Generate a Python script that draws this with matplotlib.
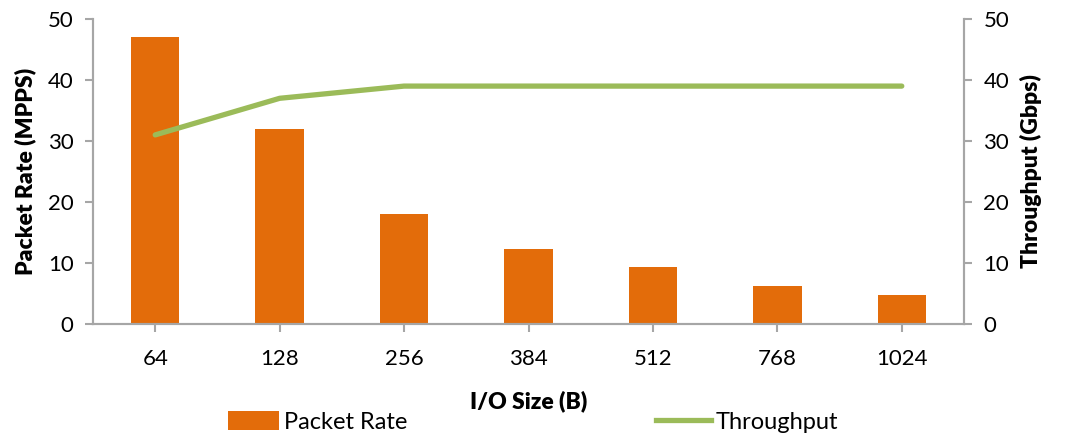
import matplotlib
matplotlib.use("Agg")
import matplotlib.pyplot as plt
import numpy as np
from matplotlib.patches import Patch
from matplotlib.lines import Line2D

categories = ["64", "128", "256", "384", "512", "768", "1024"]
packet_rate = [47, 32, 18.1, 12.3, 9.3, 6.2, 4.75]
throughput = [31, 37, 39, 39, 39, 39, 39]

plt.rcParams['font.family'] = ['Lato', 'DejaVu Sans']

ORANGE = "#E36C0A"
GREEN = "#9BBB59"
GRAY = "#A6A6A6"

W, H = 1066, 438
fig = plt.figure(figsize=(W / 100, H / 100), dpi=100)
ax = fig.add_axes([93 / W, 1 - 324 / H, (964 - 93) / W, (324 - 19) / H])
x = np.arange(len(categories))
ax.bar(x, packet_rate, width=0.39, color=ORANGE, zorder=2)
ax.set_xlim(-0.5, len(categories) - 0.5)
ax.set_ylim(0, 50)
ax.set_yticks([0, 10, 20, 30, 40, 50])
ax.set_xticks(x)
ax.set_xticklabels(categories)

ax2 = ax.twinx()
ax2.plot(x, throughput, color=GREEN, lw=3.8, solid_capstyle='round', zorder=3)
ax2.set_ylim(0, 50)
ax2.set_yticks([0, 10, 20, 30, 40, 50])

for a in (ax, ax2):
    a.spines['top'].set_visible(False)
    for s in ('left', 'right', 'bottom'):
        a.spines[s].set_color(GRAY)
        a.spines[s].set_linewidth(1.5)
    a.tick_params(axis='both', colors=GRAY, labelcolor='black', labelsize=16,
                  length=6, width=1.5, direction='out')
ax.tick_params(axis='x', pad=12)
ax.tick_params(axis='y', pad=8)
ax2.tick_params(axis='y', pad=8)

ax.set_xlabel("I/O Size (B)", fontsize=16.5, fontweight='heavy', labelpad=15)
ax.set_ylabel("Packet Rate (MPPS)", fontsize=16.5, fontweight='heavy', labelpad=8)
ax2.set_ylabel("Throughput (Gbps)", fontsize=16.5, fontweight='heavy', labelpad=8)

fs = 17
fpx = fs * 100 / 72
h1 = [Patch(facecolor=ORANGE, label="Packet Rate")]
h2 = [Line2D([0], [0], color=GREEN, lw=3.8, label="Throughput")]
for hh, x0, hl in ((h1, 228, 51), (h2, 656, 55)):
    fig.legend(handles=hh, loc='center left', bbox_to_anchor=(x0 / W, 1 - 422 / H),
               frameon=False, fontsize=fs, handlelength=hl / fpx, handleheight=19 / fpx,
               handletextpad=5 / fpx, borderpad=0, borderaxespad=0)

fig.savefig("out.png", dpi=100)
